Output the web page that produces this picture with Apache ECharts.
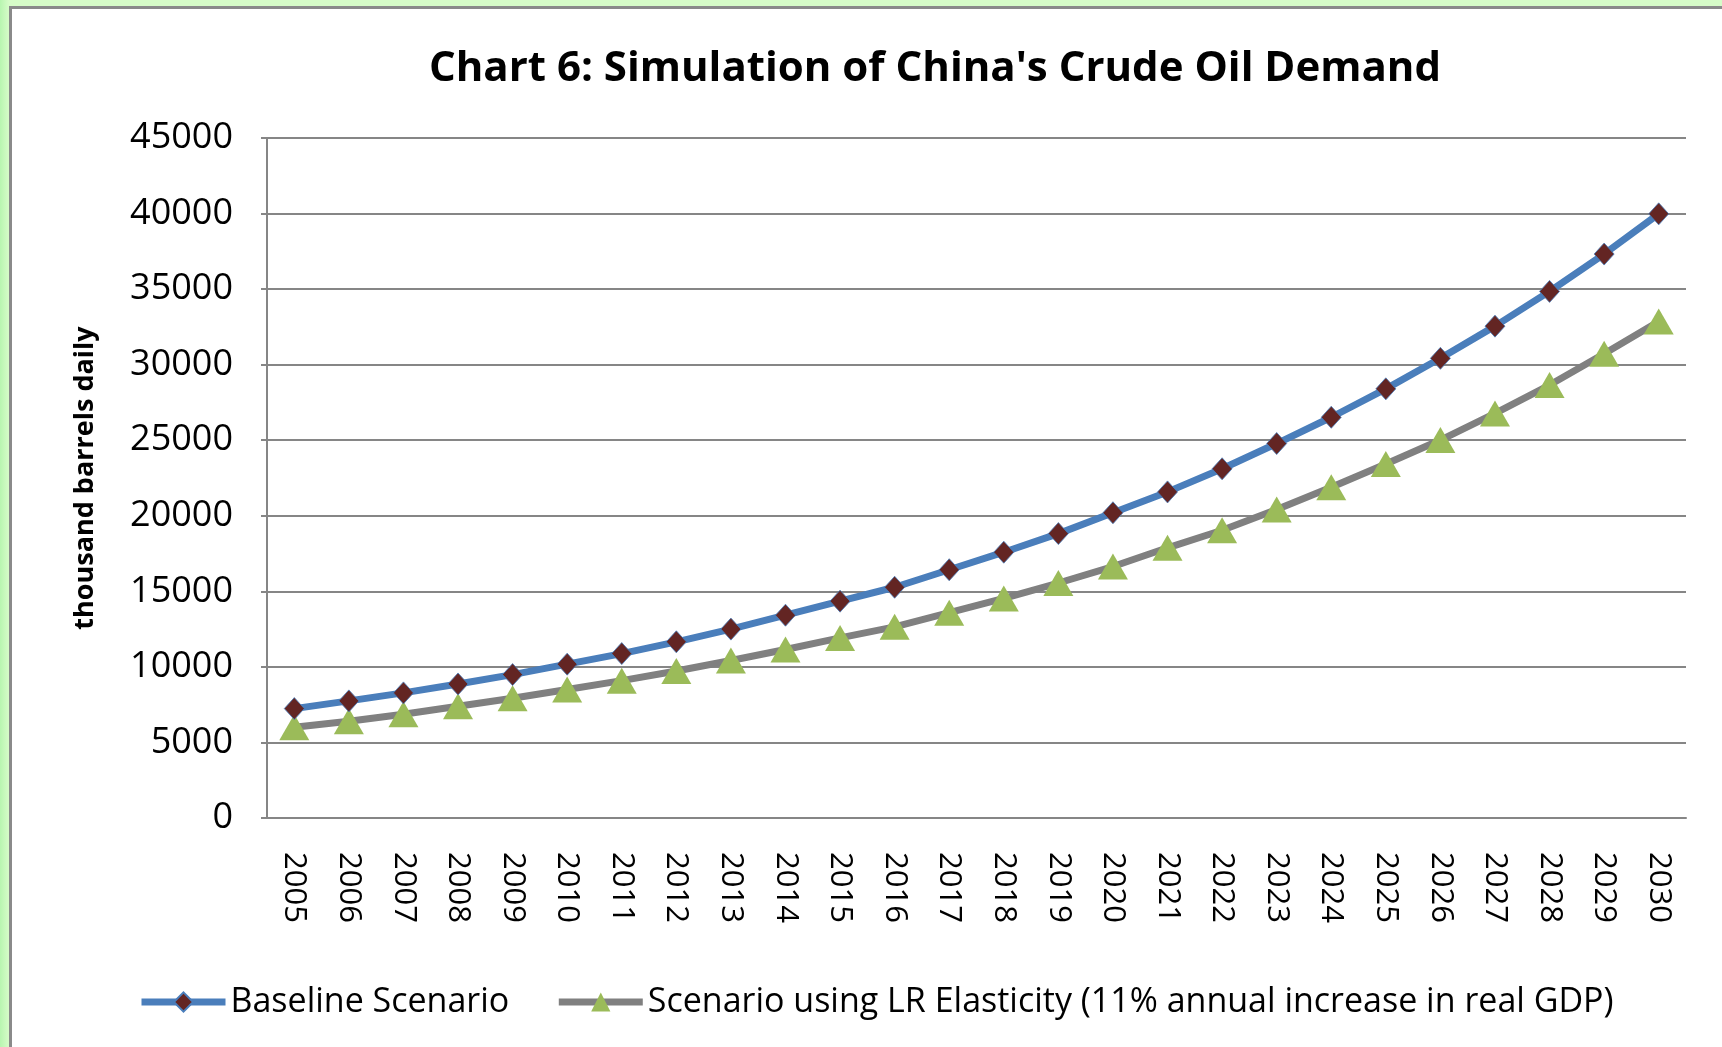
<!DOCTYPE html>
<html lang="en">

<head>
    <meta charset="UTF-8">
    <title>Chart 6: Simulation of China's Crude Oil Demand</title>
    <script src="https://cdn.jsdelivr.net/npm/echarts@6/dist/echarts.min.js"></script>
    <style>
        html, body {
            margin: 0;
            padding: 0;
            width: 100%;
            height: 100%;
            overflow: hidden;
            background: linear-gradient(to right, #b8f5b0 0px, #d6fcc8 9px);
        }
        .frame {
            position: absolute;
            left: 9px;
            top: 6px;
            width: 1760px;
            height: 1100px;
            background: #fff;
            border-left: 3px solid #8a8a8a;
            border-top: 3px solid #8a8a8a;
        }
        .oil {
            position: absolute;
            left: 0;
            top: 0;
            width: 1722px;
            height: 1047px;
        }
    </style>
</head>

<body>
    <div class="frame"></div>
    <div class="oil" id="oil"></div>

    <script>
        var years = ['2005', '2006', '2007', '2008', '2009', '2010', '2011', '2012', '2013',
            '2014', '2015', '2016', '2017', '2018', '2019', '2020', '2021', '2022', '2023',
            '2024', '2025', '2026', '2027', '2028', '2029', '2030'];
        // thousand barrels daily
        var baseline = [7240, 7750, 8280, 8870, 9490, 10180, 10880, 11660, 12500, 13420,
            14350, 15270, 16430, 17590, 18820, 20200, 21580, 23110, 24780, 26520,
            28400, 30420, 32550, 34850, 37320, 39980];
        var lrElasticity = [6000, 6400, 6870, 7400, 7920, 8500, 9090, 9730, 10420, 11150,
            11920, 12650, 13590, 14530, 15550, 16640, 17880, 19040, 20420, 21890,
            23430, 25010, 26770, 28650, 30720, 32850];
        var seriesNames = ['Baseline Scenario',
            'Scenario using LR Elasticity (11% annual increase in real GDP)'];

        var font = '"Open Sans", Lato, sans-serif';
        var oilChart = echarts.init(document.getElementById('oil'));
        oilChart.setOption({
            animation: false,
            title: {
                text: "Chart 6: Simulation of China's Crude Oil Demand",
                left: 930,
                textAlign: 'center',
                top: 43,
                textStyle: {
                    fontFamily: font,
                    fontSize: 42,
                    fontWeight: 'bold',
                    color: '#000'
                }
            },
            legend: {
                left: 133,
                top: 980,
                itemWidth: 84,
                itemHeight: 24,
                itemGap: 46,
                lineStyle: { width: 7 },
                textStyle: {
                    fontFamily: font,
                    fontSize: 34,
                    color: '#000'
                },
                data: seriesNames
            },
            grid: {
                left: 267,
                right: 36,
                top: 138,
                bottom: 229,
                containLabel: false
            },
            xAxis: {
                type: 'category',
                data: years,
                boundaryGap: true,
                axisLine: { lineStyle: { color: '#868686', width: 2 } },
                axisTick: { show: false },
                axisLabel: {
                    rotate: -90,
                    margin: 34,
                    fontFamily: font,
                    fontSize: 31,
                    color: '#000'
                }
            },
            yAxis: {
                type: 'value',
                min: 0,
                max: 45000,
                interval: 5000,
                name: 'thousand barrels daily',
                nameLocation: 'middle',
                nameGap: 168,
                nameRotate: 90,
                nameTextStyle: {
                    fontFamily: font,
                    fontSize: 27,
                    fontWeight: 'bold',
                    color: '#000'
                },
                axisLine: { show: true, lineStyle: { color: '#868686', width: 2 } },
                axisTick: { show: true, length: 6, lineStyle: { color: '#868686', width: 2 } },
                splitLine: { lineStyle: { color: '#868686', width: 2 } },
                axisLabel: {
                    margin: 34,
                    fontFamily: font,
                    fontSize: 36,
                    color: '#000',
                    formatter: function (v) { return String(v); }
                }
            },
            series: [{
                name: seriesNames[0],
                type: 'line',
                data: baseline,
                symbol: 'diamond',
                symbolSize: [20, 22],
                lineStyle: { color: '#4a7ebb', width: 7 },
                itemStyle: { color: '#632523', borderColor: '#4a7ebb', borderWidth: 0.8 },
                z: 3
            }, {
                name: seriesNames[1],
                type: 'line',
                data: lrElasticity,
                symbol: 'triangle',
                symbolSize: [30, 26],
                lineStyle: { color: '#808080', width: 7 },
                itemStyle: { color: '#9bbb59' },
                z: 2
            }]
        });
    </script>
</body>

</html>
